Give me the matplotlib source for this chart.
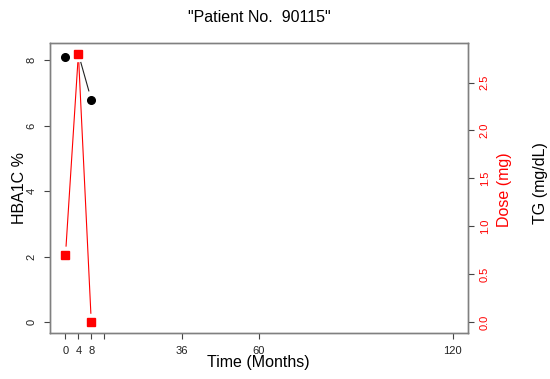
import matplotlib
matplotlib.use("Agg")
import matplotlib.pyplot as plt
import numpy as np

plt.rcParams['font.family'] = ['Liberation Sans', 'DejaVu Sans']

# data
months = [0, 4, 8]
hba1c = [8.1, 8.2, 6.8]
dose = [0.7, 2.8, 0.0]
x_ticks = [0, 4, 8, 12, 36, 60, 120]
x_tick_labels = ['0', '4', '8', '', '36', '60', '120']
left_ticks = [0, 2, 4, 6, 8]
right_ticks = [0.0, 0.5, 1.0, 1.5, 2.0, 2.5]

BOX = '#808080'
TICK = '#444444'


def r_range(lo, hi):
    # R style 4% extension
    d = (hi - lo) * 0.04
    return lo - d, hi + d


def draw_type_b(ax, x, y, color, gap_px=8.5):
    """line segments stopped short of the points, like R type='b'"""
    pts = ax.transData.transform(np.column_stack([x, y]))
    inv = ax.transData.inverted()
    for p0, p1 in zip(pts[:-1], pts[1:]):
        v = p1 - p0
        L = np.hypot(*v)
        if L <= 2 * gap_px:
            continue
        u = v / L
        a = inv.transform(p0 + u * gap_px)
        b = inv.transform(p1 - u * gap_px)
        ax.plot([a[0], b[0]], [a[1], b[1]], color=color, lw=0.8,
                solid_capstyle='butt', zorder=2)


fig = plt.figure(figsize=(5.5, 3.79), dpi=100)
ax = fig.add_axes([50 / 550, 46 / 379, 418 / 550, 290 / 379])

ax.set_xlim(*r_range(0, 120))
ax.set_ylim(*r_range(0, max(hba1c)))
for s in ax.spines.values():
    s.set_color(BOX)
    s.set_linewidth(1.0)

ax.set_xticks(x_ticks)
ax.set_xticklabels(x_tick_labels)
ax.set_yticks(left_ticks)
ax.set_yticklabels([str(t) for t in left_ticks], rotation=90, va='center')
ax.tick_params(axis='both', length=4.5, width=0.8, color=TICK,
               labelsize=8, labelcolor='#222222')
ax.tick_params(axis='y', pad=5)
ax.tick_params(axis='x', pad=5)

ax2 = ax.twinx()
ax2.set_ylim(*r_range(0, max(dose)))
ax2.set_xlim(ax.get_xlim())
for s in ax2.spines.values():
    s.set_color(BOX)
    s.set_linewidth(1.0)
ax2.set_yticks(right_ticks)
ax2.set_yticklabels([f'{t:.1f}' for t in right_ticks], rotation=90, va='center')
ax2.tick_params(axis='y', length=4.5, width=0.8, color=TICK, labelsize=8,
                labelcolor='red', pad=4)

# HBA1C series (black circles)
draw_type_b(ax, months, hba1c, '#222222')
ax.plot(months, hba1c, 'o', color='black', ms=5.5, zorder=3, clip_on=False)

# Dose series (red squares)
draw_type_b(ax2, months, dose, 'red')
ax2.plot(months, dose, 's', color='red', ms=5.5, zorder=3, clip_on=False)

fig.text(259 / 550, 1 - 18 / 379, '"Patient No.  90115"', ha='center',
         va='center', fontsize=11.5)
fig.text(258 / 550, 1 - 363 / 379, 'Time (Months)', ha='center', va='center',
         fontsize=11.5)
fig.text(19 / 550, 1 - 188 / 379, 'HBA1C %', rotation=90, ha='center',
         va='center', fontsize=11.5)
fig.text(505 / 550, 1 - 190 / 379, 'Dose (mg)', rotation=90, ha='center',
         va='center', fontsize=11.5, color='red')
fig.text(540 / 550, 1 - 183 / 379, 'TG (mg/dL)', rotation=90, ha='center',
         va='center', fontsize=11.5)

fig.savefig('out.png', dpi=100, facecolor='white')
